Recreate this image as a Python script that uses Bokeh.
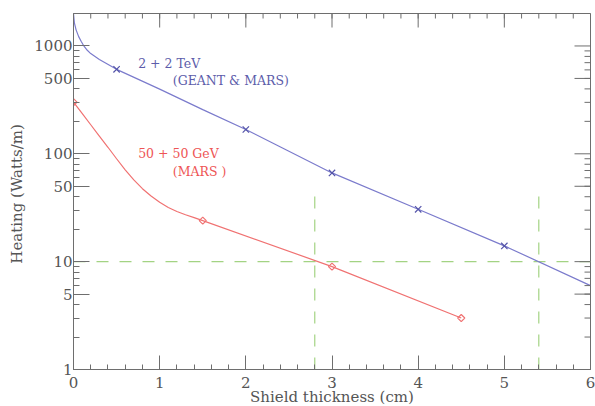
import math
from bokeh.plotting import figure
from bokeh.models import FixedTicker, Label, Range1d, BasicTickFormatter
from bokeh.embed import file_html
from bokeh.resources import INLINE

# ---- data ----
tev_marker_x = [0.5, 2, 3, 4, 5]
tev_marker_y = [607, 168, 66.5, 30.6, 14.0]
tev_curve_x = [0, 0.01, 0.03, 0.06, 0.09, 0.12, 0.16, 0.2, 0.3, 0.5, 1.0, 1.5, 2,
               3, 4, 5, 6]
tev_curve_y = [2000, 1640, 1410, 1220, 1100, 1000, 912, 850, 750, 607, 398, 257,
               168, 66.5, 30.6, 14.0, 6.0]

gev_marker_x = [0, 1.5, 3, 4.5]
gev_marker_y = [301, 24.0, 9.0, 3.0]
gev_curve_x = [0, 0.1, 0.2, 0.3, 0.4, 0.5, 0.6, 0.7, 0.8, 0.9, 1.0, 1.1, 1.2,
               1.3, 1.4, 1.5, 3, 4.5]
gev_curve_y = [301, 237, 186, 146, 115, 90, 71, 57.3, 47.5, 40.6, 35.6, 31.8,
               29.2, 27.2, 25.6, 24.0, 9.0, 3.0]

limit_level = 10
limit_x = [0, 6]
needed_thickness = [2.8, 5.4]
needed_bottom = [1, 1]
needed_top = [48, 48]

x_start, x_end = 0, 6
y_start, y_end = 1, 2000
x_major = [0, 1, 2, 3, 4, 5, 6]
x_minor = [i / 5 for i in range(0, 31)]
y_major = [1, 5, 10, 50, 100, 500, 1000]
y_minor = [m * d for d in (1, 10, 100, 1000) for m in range(2, 10) if m * d <= 2000]

FONT = "DejaVu Serif"
AXIS_COLOR = "#6e6e6e"
BLUE_LINE = "#7b7bcc"
BLUE_TEXT = "#5c5caa"
RED_LINE = "#f07272"
RED_TEXT = "#ee5555"
GREEN = "#a3d383"

p = figure(frame_width=517, frame_height=356,
           x_range=Range1d(x_start, x_end), y_range=Range1d(y_start, y_end),
           y_axis_type="log", output_backend="svg", toolbar_location=None,
           min_border_left=73, min_border_right=5, min_border_top=13,
           min_border_bottom=37)
p.grid.visible = False
p.outline_line_color = AXIS_COLOR
p.background_fill_color = "white"
p.border_fill_color = "white"

# reference lines
p.line(limit_x, [limit_level, limit_level], line_color=GREEN, line_width=1.2,
       line_dash="12 11")
p.segment(x0=needed_thickness, y0=needed_bottom, x1=needed_thickness, y1=needed_top,
          line_color=GREEN, line_width=1.2, line_dash="12 11")

# curves
p.line(tev_curve_x, tev_curve_y, line_color=BLUE_LINE, line_width=1.2)
p.scatter(tev_marker_x, tev_marker_y, marker="x", size=9, line_color="#5555aa",
          line_width=1.2)
p.line(gev_curve_x, gev_curve_y, line_color=RED_LINE, line_width=1.2)
p.scatter(gev_marker_x, gev_marker_y, marker="square", size=5, angle=math.pi / 4,
          line_color=RED_LINE, fill_color=None, line_width=1.2)

# mirrored tick marks on the top and right edges of the frame
p.ray(x=x_major, y=[y_end] * len(x_major), length=14, angle=-math.pi / 2,
      length_units="screen", line_color=AXIS_COLOR, line_width=1)
p.ray(x=x_minor, y=[y_end] * len(x_minor), length=5, angle=-math.pi / 2,
      length_units="screen", line_color=AXIS_COLOR, line_width=1)
p.ray(x=[x_end] * len(y_major), y=y_major, length=16, angle=math.pi,
      length_units="screen", line_color=AXIS_COLOR, line_width=1)
p.ray(x=[x_end] * len(y_minor), y=y_minor, length=6, angle=math.pi,
      length_units="screen", line_color=AXIS_COLOR, line_width=1)


def style_axis(ax, major, minor, maj_len, min_len):
    ax.ticker = FixedTicker(ticks=major, minor_ticks=minor)
    ax.axis_line_color = AXIS_COLOR
    ax.major_tick_line_color = AXIS_COLOR
    ax.minor_tick_line_color = AXIS_COLOR
    ax.major_tick_in = maj_len
    ax.major_tick_out = 0
    ax.minor_tick_in = min_len
    ax.minor_tick_out = 0
    ax.major_label_text_font = FONT
    ax.major_label_text_color = "#555555"
    ax.major_label_text_font_size = "15px"
    ax.axis_label_text_font = FONT
    ax.axis_label_text_font_style = "normal"
    ax.axis_label_text_color = "#555555"
    ax.axis_label_text_font_size = "15px"


xa = p.xaxis[0]
style_axis(xa, x_major, x_minor, 14, 5)
xa.axis_label = "Shield thickness (cm)"
xa.major_label_standoff = 7
xa.axis_label_standoff = -3

ya = p.yaxis[0]
style_axis(ya, y_major, y_minor, 16, 6)
ya.formatter = BasicTickFormatter()
ya.axis_label = "Heating  (Watts/m)"
ya.major_label_standoff = 1
ya.axis_label_standoff = 5

# annotations
for txt, x, y, col in [("2 + 2 TeV", 0.75, 694, BLUE_TEXT),
                       ("(GEANT & MARS)", 1.153, 482, BLUE_TEXT),
                       ("50 + 50 GeV", 0.75, 101, RED_TEXT),
                       ("(MARS )", 1.153, 68.9, RED_TEXT)]:
    p.add_layout(Label(x=x, y=y, text=txt, text_font=FONT, text_font_size="12.5px",
                       text_color=col, text_baseline="middle", text_align="left"))

open("out.html", "w").write(file_html(p, INLINE))
